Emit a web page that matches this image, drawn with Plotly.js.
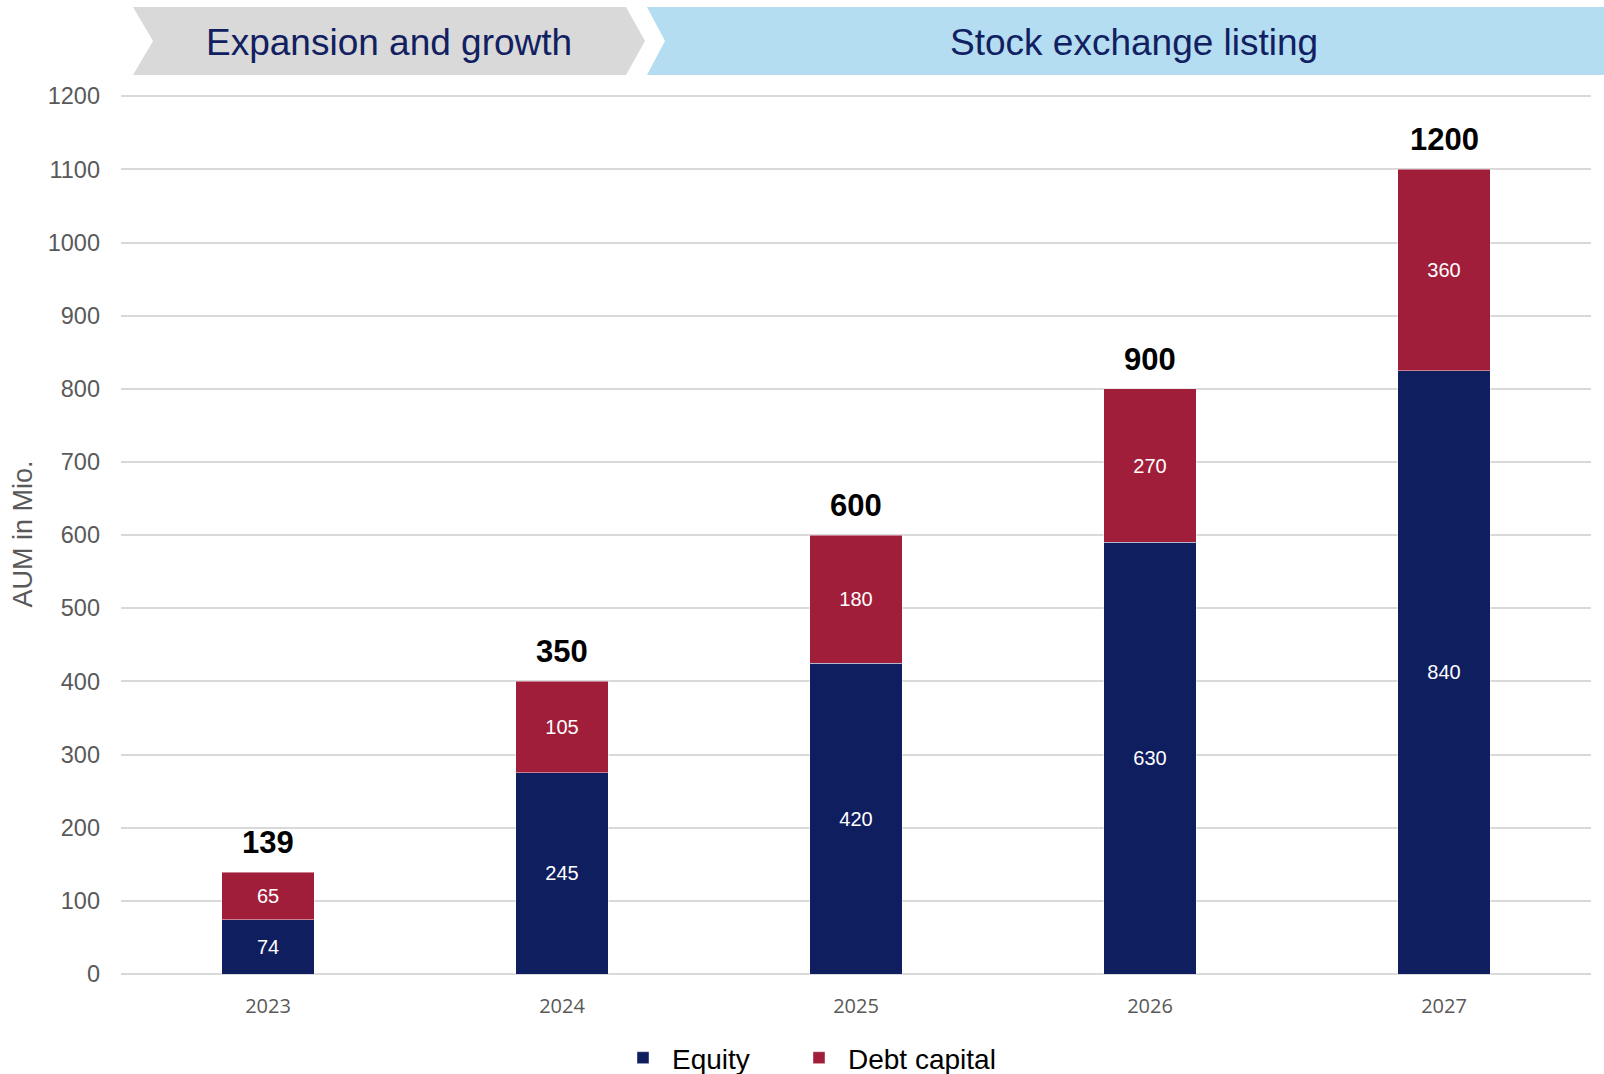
<!DOCTYPE html>
<html>
<head>
<meta charset="utf-8">
<script src="https://cdn.plot.ly/plotly-3.0.1.min.js"></script>
<style>
  html, body { margin: 0; padding: 0; background: #ffffff; }
  #chart { width: 1604px; height: 1074px; }
</style>
</head>
<body>
<div id="chart"></div>
<script>
// ---- data ----
const years = ['2023', '2024', '2025', '2026', '2027'];
// segment heights as drawn in the chart
const equity = [74, 275, 425, 590, 825];
const debt = [65, 125, 175, 210, 275];
// labels printed on the chart
const equityLabels = ['74', '245', '420', '630', '840'];
const debtLabels = ['65', '105', '180', '270', '360'];
const totalLabels = ['139', '350', '600', '900', '1200'];
const yTickVals = [0, 100, 200, 300, 400, 500, 600, 700, 800, 900, 1000, 1100, 1200];
const seriesNames = ['Equity', 'Debt capital'];
const phaseNames = ['Expansion and growth', 'Stock exchange listing'];

// ---- layout geometry (pixels) ----
const W = 1604, H = 1074;
const M = { l: 121, r: 13, t: 94, b: 100, autoexpand: false };
const pw = W - M.l - M.r, ph = H - M.t - M.b;
const px = x => (x - M.l) / pw;
const py = y => (H - M.b - y) / ph;
function poly(pts) {
  return 'M' + pts.map(p => px(p[0]).toFixed(5) + ',' + py(p[1]).toFixed(5)).join('L') + 'Z';
}

const navy = '#0f1e5f';
const red = '#a11e3b';
const grey = '#595959';
const FONT = 'Liberation Sans, Arial, sans-serif';

const traces = [
  {
    type: 'bar', name: seriesNames[0], x: years, y: equity,
    text: equityLabels, textposition: 'inside', insidetextanchor: 'middle',
    textfont: { family: FONT, size: 20, color: '#ffffff' },
    marker: { color: navy, line: { color: 'rgba(255,255,255,0.55)', width: 0.8 } },
    width: 0.315, hoverinfo: 'skip', legend: 'legend'
  },
  {
    type: 'bar', name: seriesNames[1], x: years, y: debt,
    text: debtLabels, textposition: 'inside', insidetextanchor: 'middle',
    textfont: { family: FONT, size: 20, color: '#ffffff' },
    marker: { color: red, line: { color: 'rgba(255,255,255,0.55)', width: 0.8 } },
    width: 0.315, hoverinfo: 'skip', legend: 'legend2'
  }
];

const annotations = years.map((yr, i) => ({
  x: i, y: equity[i] + debt[i], xref: 'x', yref: 'y',
  text: '<b>' + totalLabels[i] + '</b>', showarrow: false,
  yanchor: 'bottom', xanchor: 'center', yshift: 10,
  font: { family: FONT, size: 31, color: '#000000' }
}));

annotations.push({
  xref: 'paper', yref: 'paper', x: px(389), y: py(42), xanchor: 'center', yanchor: 'middle',
  text: phaseNames[0], showarrow: false,
  font: { family: FONT, size: 37, color: '#112060' }
});
annotations.push({
  xref: 'paper', yref: 'paper', x: px(1134), y: py(42), xanchor: 'center', yanchor: 'middle',
  text: phaseNames[1], showarrow: false,
  font: { family: FONT, size: 37, color: '#112060' }
});

const shapes = [
  {
    type: 'path', xref: 'paper', yref: 'paper', layer: 'below',
    path: poly([[133, 7], [626, 7], [645, 41], [626, 75], [133, 75], [153, 41]]),
    fillcolor: '#d9d9d9', line: { width: 0 }
  },
  {
    type: 'path', xref: 'paper', yref: 'paper', layer: 'below',
    path: poly([[647, 7], [1604, 7], [1604, 75], [647, 75], [665, 41]]),
    fillcolor: '#b4ddf1', line: { width: 0 }
  }
];

const legendBase = {
  orientation: 'h', xanchor: 'left', y: py(1058), yanchor: 'middle',
  font: { family: FONT, size: 28, color: '#000000' },
  itemwidth: 48, itemclick: false, bgcolor: 'rgba(0,0,0,0)'
};

const layout = {
  width: W, height: H,
  margin: M,
  paper_bgcolor: '#ffffff', plot_bgcolor: '#ffffff',
  barmode: 'stack',
  showlegend: true,
  legend: Object.assign({}, legendBase, { x: px(614) }),
  legend2: Object.assign({}, legendBase, { x: px(790) }),
  xaxis: {
    type: 'category', range: [-0.5, 4.5],
    showgrid: false, showline: false, zeroline: false, ticks: '',
    tickfont: { family: 'Open Sans, sans-serif', size: 20, color: grey },
    ticklabelstandoff: 18, fixedrange: true, automargin: false
  },
  yaxis: {
    range: [0, 1203], tickvals: yTickVals, ticktext: yTickVals.map(String),
    showgrid: true, gridcolor: '#d9d9d9', gridwidth: 2,
    zeroline: true, zerolinecolor: '#d9d9d9', zerolinewidth: 2,
    showline: false, ticks: '',
    tickfont: { family: FONT, size: 23.5, color: grey },
    ticklabelstandoff: 20,
    title: { text: 'AUM in Mio.', standoff: 7,
      font: { family: FONT, size: 27, color: grey } },
    automargin: false, fixedrange: true
  },
  annotations: annotations,
  shapes: shapes,
  font: { family: FONT }
};

Plotly.newPlot('chart', traces, layout, { staticPlot: true, displayModeBar: false });
</script>
</body>
</html>
